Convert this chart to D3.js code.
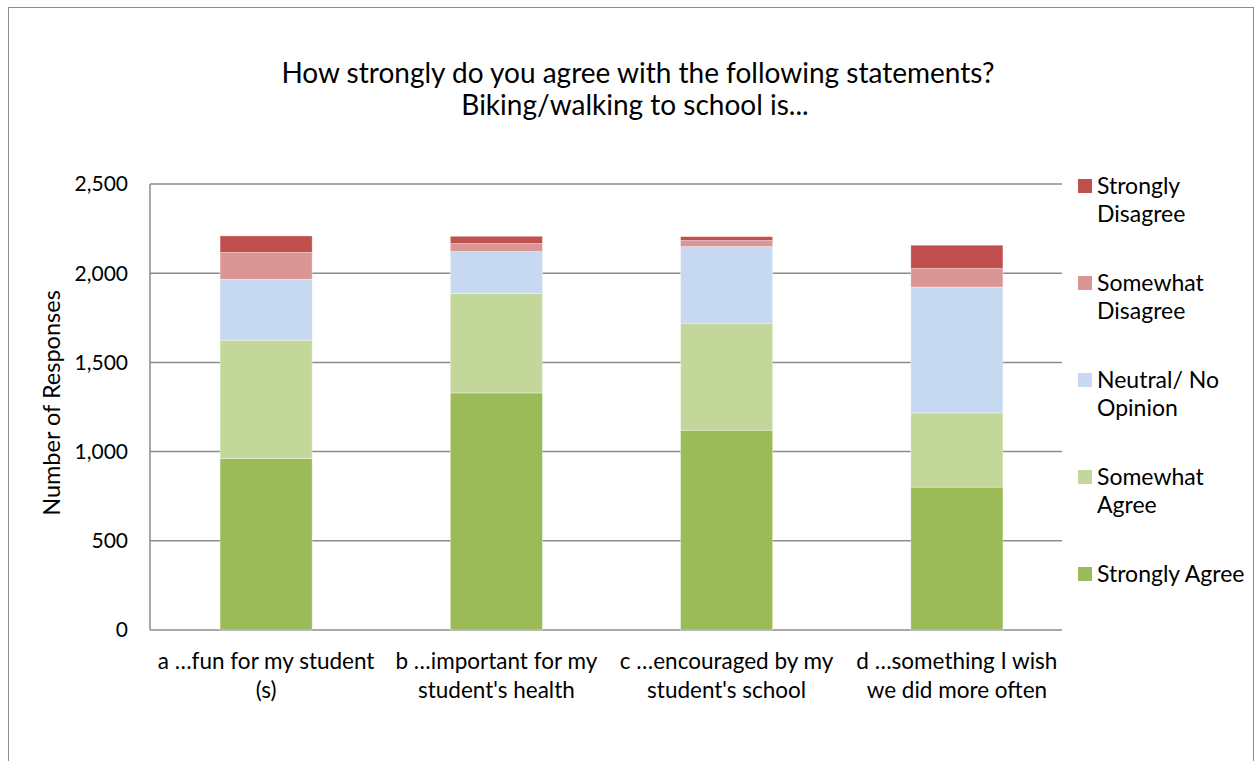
<!DOCTYPE html>
<html>
<head>
<meta charset="utf-8">
<style>
  body { margin: 0; background: #fff; }
  text { font-family: Lato, "Open Sans", sans-serif; fill: #000; }
</style>
</head>
<body>
<script src="https://cdn.jsdelivr.net/npm/d3@7"></script>
<script>
var categories = ["a …fun for my student (s)", "b …important for my student's health",
                  "c …encouraged by my student's school", "d …something I wish we did more often"];
var series = ["Strongly Agree", "Somewhat Agree", "Neutral/ No Opinion", "Somewhat Disagree", "Strongly Disagree"];
var stronglyAgree    = [962, 1329, 1120, 801];
var somewhatAgree    = [663, 557, 600, 416];
var neutral          = [341, 235, 429, 705];
var somewhatDisagree = [150, 45, 34, 104];
var stronglyDisagree = [93, 41, 22, 131];
var colors = ["#9bbb59", "#c4d79b", "#c6d9f1", "#d99694", "#c0504d"];
var yTicks = [0, 500, 1000, 1500, 2000, 2500];

var width = 1257, height = 761;
var svg = d3.select("body").append("svg")
    .attr("width", width)
    .attr("height", height);

// outer chart frame
svg.append("rect")
    .attr("x", 8.5).attr("y", 7.5)
    .attr("width", 1245).attr("height", 770)
    .attr("fill", "none").attr("stroke", "#8c8c8c").attr("stroke-width", 1);

var table = categories.map(function(c, i) {
    return {
        cat: c,
        "Strongly Agree": stronglyAgree[i],
        "Somewhat Agree": somewhatAgree[i],
        "Neutral/ No Opinion": neutral[i],
        "Somewhat Disagree": somewhatDisagree[i],
        "Strongly Disagree": stronglyDisagree[i]
    };
});

var plotLeft = 150, plotRight = 1062, plotTop = 184, plotBottom = 630;

var x = d3.scaleBand()
    .domain(categories)
    .range([151, 1072])
    .paddingInner(0.6)
    .paddingOuter(0.3);

var y = d3.scaleLinear()
    .domain([0, 2500])
    .range([plotBottom, plotTop]);

var color = d3.scaleOrdinal().domain(series).range(colors);

// gridlines
svg.append("g")
    .selectAll("line")
    .data(yTicks)
    .enter().append("line")
    .attr("x1", plotLeft).attr("x2", plotRight)
    .attr("y1", function(d) { return y(d); })
    .attr("y2", function(d) { return y(d); })
    .attr("stroke", "#8c8c8c").attr("stroke-width", 1.5);

// y axis line
svg.append("line")
    .attr("x1", plotLeft).attr("x2", plotLeft)
    .attr("y1", plotTop).attr("y2", plotBottom)
    .attr("stroke", "#8c8c8c").attr("stroke-width", 1.5);

// y tick labels
svg.append("g")
    .selectAll("text")
    .data(yTicks)
    .enter().append("text")
    .attr("x", 128)
    .attr("y", function(d) { return y(d); })
    .attr("dy", "0.35em")
    .attr("text-anchor", "end")
    .style("font-size", "21px")
    .text(d3.format(","));

// y axis title
svg.append("text")
    .attr("transform", "translate(60," + 403 + ") rotate(-90)")
    .attr("text-anchor", "middle")
    .style("font-size", "23.5px")
    .text("Number of Responses");

// stacked bars
var stack = d3.stack().keys(series);
var layers = stack(table);

svg.append("g")
    .selectAll("g")
    .data(layers)
    .enter().append("g")
    .attr("fill", function(d) { return color(d.key); })
    .selectAll("rect")
    .data(function(d) { return d; })
    .enter().append("rect")
    .attr("x", function(d) { return x(d.data.cat); })
    .attr("width", x.bandwidth())
    .attr("y", function(d) { return y(d[1]); })
    .attr("height", function(d) { return y(d[0]) - y(d[1]); })
    .attr("stroke", "#ffffff")
    .attr("stroke-opacity", 0.5)
    .attr("stroke-width", 0.7);

// x labels (wrapped in two lines)
var xLabels = [["a …fun for my student", "(s)"], ["b …important for my", "student's health"],
               ["c …encouraged by my", "student's school"], ["d …something I wish", "we did more often"]];
svg.append("g")
    .selectAll("text")
    .data(categories)
    .enter().append("text")
    .attr("text-anchor", "middle")
    .style("font-size", "22.5px")
    .each(function(d, i) {
        var t = d3.select(this);
        xLabels[i].forEach(function(line, j) {
            t.append("tspan")
                .attr("x", x(d) + x.bandwidth() / 2)
                .attr("y", 669 + j * 29)
                .text(line);
        });
    });

// title
svg.append("text")
    .attr("x", 638).attr("y", 83)
    .attr("text-anchor", "middle")
    .style("font-size", "28px")
    .text("How strongly do you agree with the following statements?");
svg.append("text")
    .attr("x", 635).attr("y", 115)
    .attr("text-anchor", "middle")
    .style("font-size", "28px")
    .text("Biking/walking to school is...");

// legend (reverse order, top = Strongly Disagree)
var legendItems = [
    { key: "Strongly Disagree", lines: ["Strongly", "Disagree"] },
    { key: "Somewhat Disagree", lines: ["Somewhat", "Disagree"] },
    { key: "Neutral/ No Opinion", lines: ["Neutral/ No", "Opinion"] },
    { key: "Somewhat Agree", lines: ["Somewhat", "Agree"] },
    { key: "Strongly Agree", lines: ["Strongly Agree"] }
];
var legend = svg.append("g")
    .selectAll("g")
    .data(legendItems)
    .enter().append("g")
    .attr("transform", function(d, i) { return "translate(1078," + (186 + i * 97) + ")"; });

legend.append("rect")
    .attr("x", 0).attr("y", -7)
    .attr("width", 14).attr("height", 14)
    .attr("fill", function(d) { return color(d.key); });

legend.append("text")
    .style("font-size", "23px")
    .each(function(d) {
        var t = d3.select(this);
        d.lines.forEach(function(line, j) {
            t.append("tspan")
                .attr("x", 19)
                .attr("y", 8 + j * 28)
                .text(line);
        });
    });
</script>
</body>
</html>
